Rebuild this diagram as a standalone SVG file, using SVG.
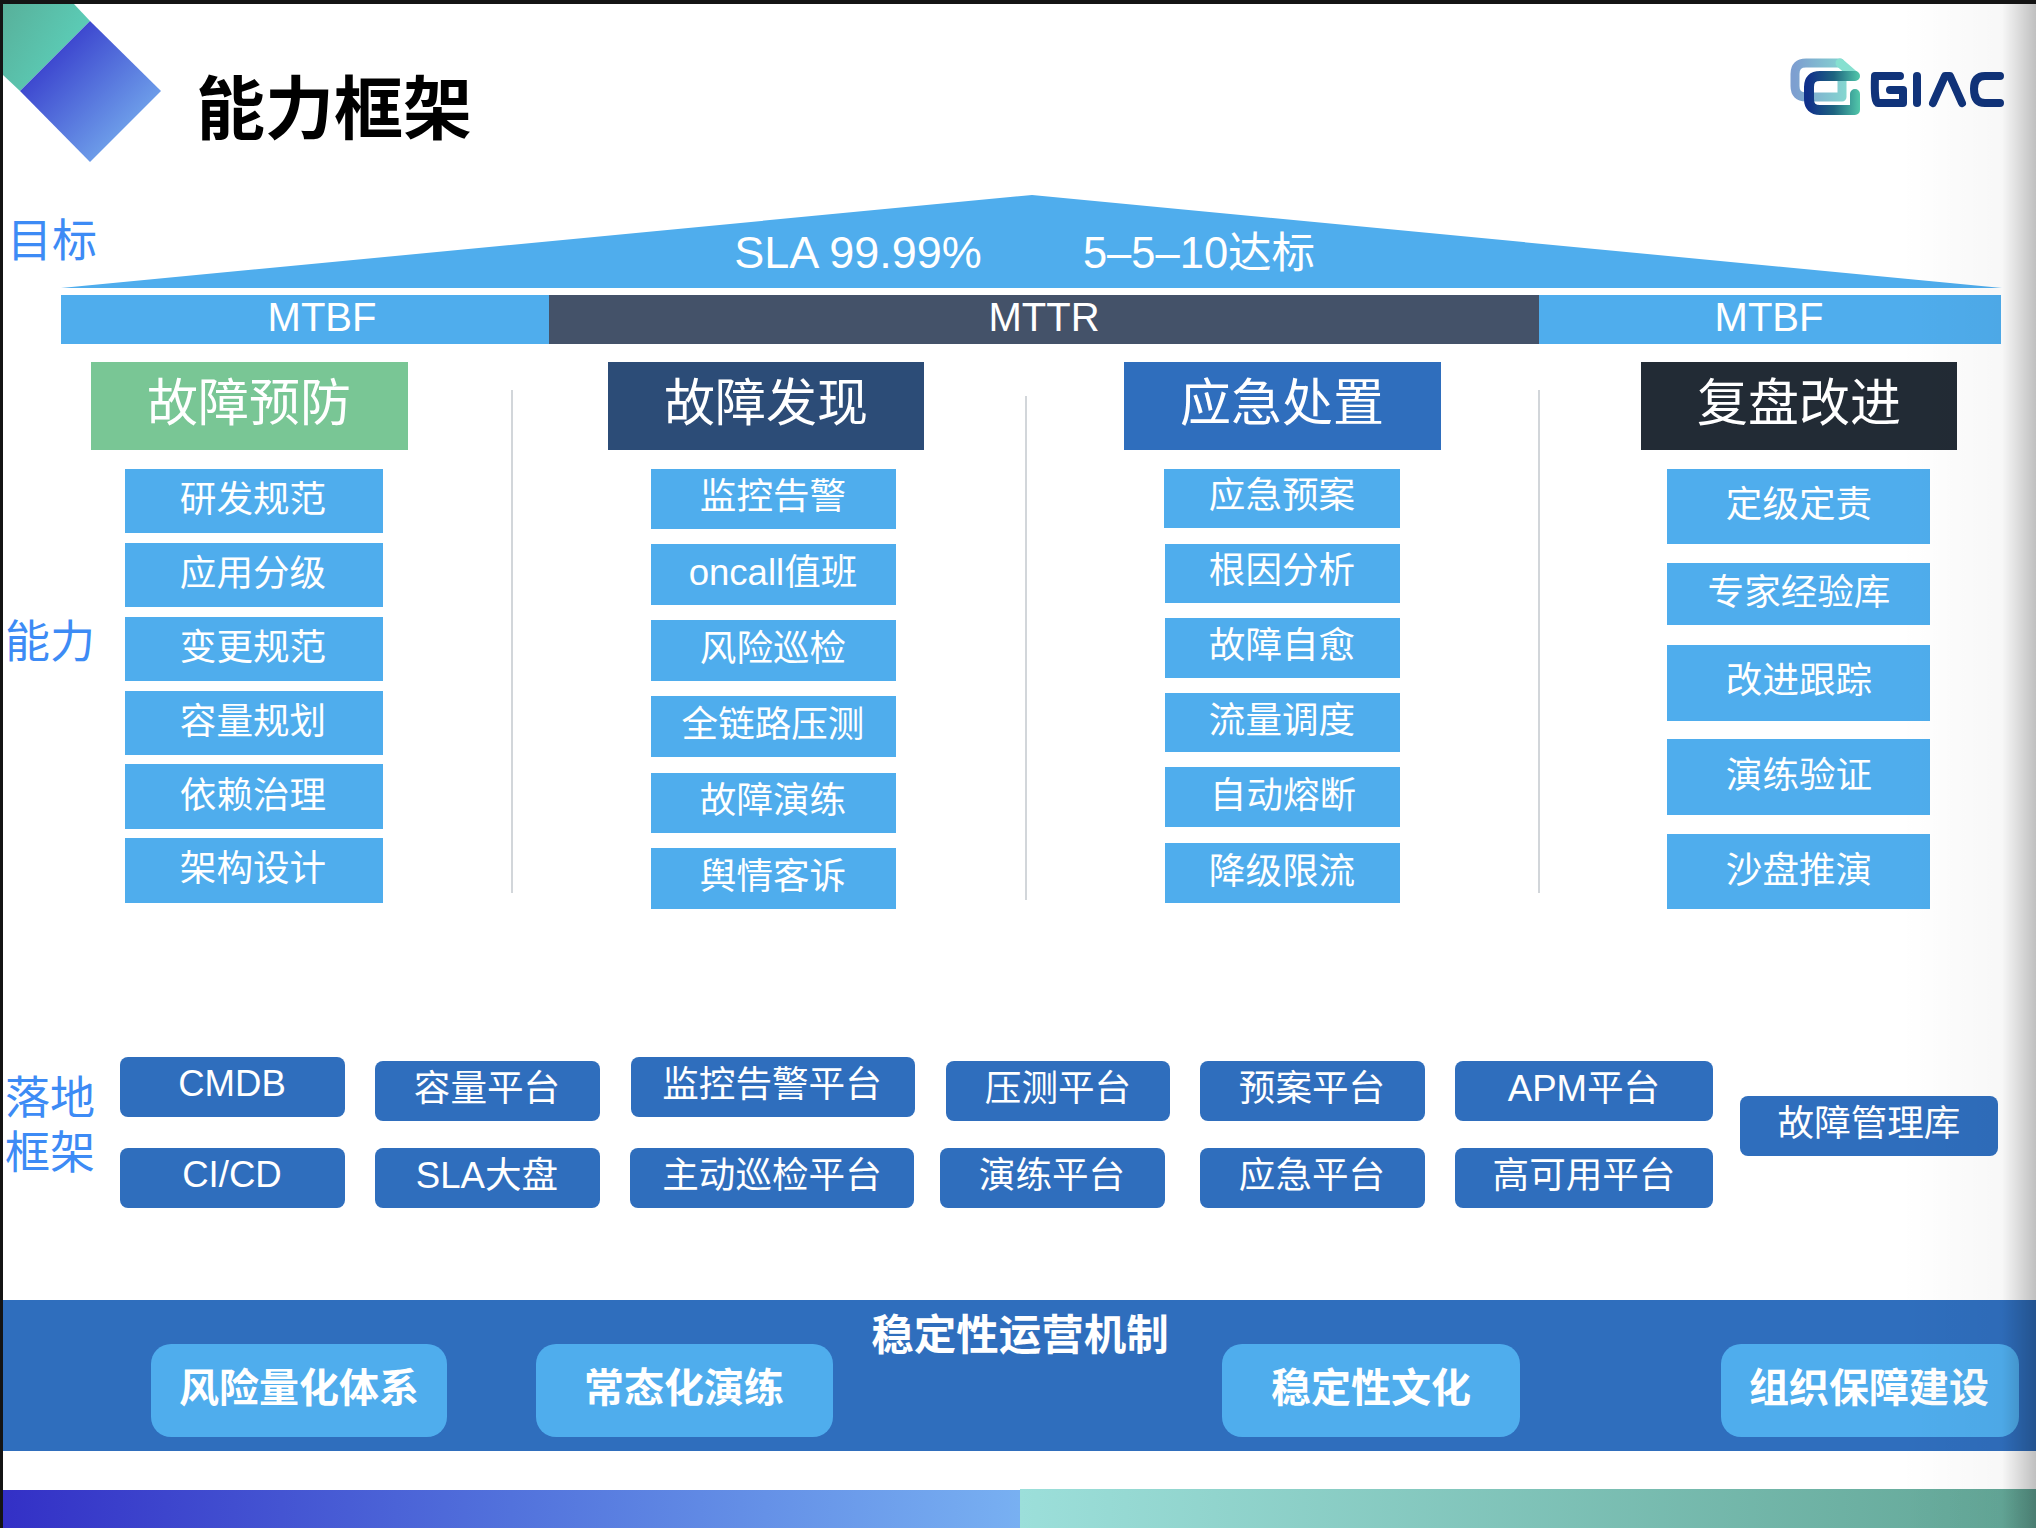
<svg xmlns="http://www.w3.org/2000/svg" width="2036" height="1528" viewBox="0 0 2036 1528">
<defs>
<linearGradient id="gDiamond" x1="0.1" y1="0.1" x2="0.9" y2="0.9"><stop offset="0" stop-color="#3030c8"/><stop offset="1" stop-color="#7ab4f0"/></linearGradient>
<linearGradient id="gCorner" x1="0" y1="0" x2="1" y2="0.6"><stop offset="0" stop-color="#58b09a"/><stop offset="1" stop-color="#5cd2bc"/></linearGradient>
<linearGradient id="gBot1" x1="0" y1="0" x2="1" y2="0"><stop offset="0" stop-color="#3330c6"/><stop offset="0.5" stop-color="#5272dc"/><stop offset="1" stop-color="#78b0f2"/></linearGradient>
<linearGradient id="gBot2" x1="0" y1="0" x2="1" y2="0"><stop offset="0" stop-color="#9cdfda"/><stop offset="1" stop-color="#62a696"/></linearGradient>
<linearGradient id="gEdge" x1="0" y1="0" x2="1" y2="0"><stop offset="0" stop-color="#000" stop-opacity="0"/><stop offset="0.75" stop-color="#000" stop-opacity="0.03"/><stop offset="1" stop-color="#000" stop-opacity="0.25"/></linearGradient>
<linearGradient id="gBack" gradientUnits="userSpaceOnUse" x1="1795" y1="0" x2="1855" y2="0"><stop offset="0" stop-color="#7d9fd0"/><stop offset="1" stop-color="#86e0d0"/></linearGradient>
<linearGradient id="gFront" gradientUnits="userSpaceOnUse" x1="1808" y1="0" x2="1860" y2="0"><stop offset="0" stop-color="#10308a"/><stop offset="0.5" stop-color="#1e6480"/><stop offset="1" stop-color="#52c8aa"/></linearGradient>
</defs>
<style>
text{font-family:"Liberation Sans","Noto Sans CJK SC",sans-serif;text-anchor:middle;fill:#fff}
.cjk{font-family:"Noto Sans CJK SC","Liberation Sans",sans-serif}
.sky{fill:#4faded}
.side{fill:#3d8bf5;font-size:45px;text-anchor:start}
.hd{font-size:51px}
.it{font-size:36.6px}
.pl{fill:#2f6ebd}
.pt{font-size:36.6px}
.bt{font-size:40px;font-weight:700}
.bar{font-size:40px}
.div{stroke:#d2d6da;stroke-width:2;fill:none}
</style>
<rect width="2036" height="1528" fill="#fff"/>
<rect width="2036" height="4" fill="#141414"/>
<rect x="0" y="4" width="3" height="1524" fill="#141414"/>
<g id="logo-mark">
<polygon points="3,4 74,4 90,21 20,91 3,75" fill="url(#gCorner)"/>
<polygon points="90,21 161,91 90,162 20,91" fill="url(#gDiamond)"/>
</g>
<text id="title" x="334" y="134" class="cjk" font-size="69" font-weight="700" style="fill:#000">能力框架</text>
<g id="giac-logo" fill="none" stroke-linecap="round" stroke-linejoin="round">
<path d="M1840 63H1806Q1795 63 1795 74V86Q1795 97 1806 97H1842V76" stroke="url(#gBack)" stroke-width="9"/>
<path d="M1840 63L1855 76" stroke="#86e0d0" stroke-width="9"/>
<path d="M1855 76H1820Q1809 76 1809 87V99Q1809 110 1820 110H1855V94" stroke="url(#gFront)" stroke-width="10"/>
<path d="M1875 76H1900M1875 76Q1874 103 1878 103H1903V90H1890" stroke="#10337a" stroke-width="8"/>
<path d="M1917 76V103" stroke="#10337a" stroke-width="8"/>
<path d="M1933 103L1945 76H1950L1962 103" stroke="#10337a" stroke-width="8"/>
<path d="M2000 76H1985Q1974 76 1974 89Q1974 103 1985 103H2000" stroke="#10337a" stroke-width="8"/>
</g>
<g id="labels">
<text class="side" x="7" y="257">目标</text>
<text class="side" x="5" y="658">能力</text>
<text class="side" x="5" y="1114">落地</text>
<text class="side" x="5" y="1169">框架</text>
</g>
<g id="goal-roof">
<polygon class="sky" points="61,288 1032,195 2002,288"/>
<text x="858" y="268" font-size="45">SLA 99.99%</text>
<text x="1199" y="268" font-size="43.5">5–5–10达标</text>
</g>
<g id="bars">
<rect class="sky" x="61" y="295" width="488" height="49"/>
<rect x="549" y="295" width="990" height="49" fill="#445269"/>
<rect class="sky" x="1539" y="295" width="462" height="49"/>
<text class="bar" x="322" y="331">MTBF</text>
<text class="bar" x="1044" y="331">MTTR</text>
<text class="bar" x="1769" y="331">MTBF</text>
</g>
<g id="dividers">
<line class="div" x1="512" y1="390" x2="512" y2="893"/>
<line class="div" x1="1026" y1="396" x2="1026" y2="900"/>
<line class="div" x1="1539" y1="390" x2="1539" y2="893"/>
</g>
<g id="head-1"><rect x="91" y="362" width="317" height="88" fill="#79c695"/><text class="hd" x="249" y="421">故障预防</text></g>
<g id="head-2"><rect x="608" y="362" width="316" height="88" fill="#2c4c77"/><text class="hd" x="766" y="421">故障发现</text></g>
<g id="head-3"><rect x="1124" y="362" width="317" height="88" fill="#2f6ebd"/><text class="hd" x="1282" y="421">应急处置</text></g>
<g id="head-4"><rect x="1641" y="362" width="316" height="88" fill="#222b35"/><text class="hd" x="1799" y="421">复盘改进</text></g>
<g id="col-1">
<rect class="sky" x="125" y="469" width="258" height="64"/><text class="it" x="253" y="512">研发规范</text>
<rect class="sky" x="125" y="543" width="258" height="64"/><text class="it" x="253" y="586">应用分级</text>
<rect class="sky" x="125" y="617" width="258" height="64"/><text class="it" x="253" y="660">变更规范</text>
<rect class="sky" x="125" y="691" width="258" height="64"/><text class="it" x="253" y="734">容量规划</text>
<rect class="sky" x="125" y="764" width="258" height="65"/><text class="it" x="253" y="808">依赖治理</text>
<rect class="sky" x="125" y="838" width="258" height="65"/><text class="it" x="253" y="881">架构设计</text>
</g>
<g id="col-2">
<rect class="sky" x="651" y="469" width="245" height="60"/><text class="it" x="773" y="509">监控告警</text>
<rect class="sky" x="651" y="544" width="245" height="61"/><text class="it" x="773" y="585">oncall值班</text>
<rect class="sky" x="651" y="620" width="245" height="61"/><text class="it" x="773" y="661">风险巡检</text>
<rect class="sky" x="651" y="696" width="245" height="61"/><text class="it" x="773" y="737">全链路压测</text>
<rect class="sky" x="651" y="773" width="245" height="60"/><text class="it" x="773" y="813">故障演练</text>
<rect class="sky" x="651" y="848" width="245" height="61"/><text class="it" x="773" y="889">舆情客诉</text>
</g>
<g id="col-3">
<rect class="sky" x="1164" y="469" width="236" height="59"/><text class="it" x="1282" y="508">应急预案</text>
<rect class="sky" x="1165" y="544" width="235" height="59"/><text class="it" x="1282" y="583">根因分析</text>
<rect class="sky" x="1165" y="618" width="235" height="60"/><text class="it" x="1282" y="658">故障自愈</text>
<rect class="sky" x="1165" y="693" width="235" height="59"/><text class="it" x="1282" y="733">流量调度</text>
<rect class="sky" x="1165" y="767" width="235" height="60"/><text class="it" x="1283" y="808">自动熔断</text>
<rect class="sky" x="1165" y="843" width="235" height="60"/><text class="it" x="1282" y="884">降级限流</text>
</g>
<g id="col-4">
<rect class="sky" x="1667" y="469" width="263" height="75"/><text class="it" x="1799" y="517">定级定责</text>
<rect class="sky" x="1667" y="563" width="263" height="62"/><text class="it" x="1799" y="605">专家经验库</text>
<rect class="sky" x="1667" y="645" width="263" height="76"/><text class="it" x="1799" y="693">改进跟踪</text>
<rect class="sky" x="1667" y="739" width="263" height="76"/><text class="it" x="1799" y="788">演练验证</text>
<rect class="sky" x="1667" y="834" width="263" height="75"/><text class="it" x="1799" y="883">沙盘推演</text>
</g>
<g id="platforms">
<rect class="pl" x="120" y="1057" width="225" height="60" rx="8"/><text class="pt" x="232" y="1096">CMDB</text>
<rect class="pl" x="375" y="1061" width="225" height="60" rx="8"/><text class="pt" x="487" y="1101">容量平台</text>
<rect class="pl" x="631" y="1057" width="284" height="60" rx="8"/><text class="pt" x="772" y="1097">监控告警平台</text>
<rect class="pl" x="946" y="1061" width="224" height="60" rx="8"/><text class="pt" x="1058" y="1101">压测平台</text>
<rect class="pl" x="1200" y="1061" width="225" height="60" rx="8"/><text class="pt" x="1312" y="1101">预案平台</text>
<rect class="pl" x="1455" y="1061" width="258" height="60" rx="8"/><text class="pt" x="1584" y="1101">APM平台</text>
<rect class="pl" x="1740" y="1096" width="258" height="60" rx="8"/><text class="pt" x="1869" y="1136">故障管理库</text>
<rect class="pl" x="120" y="1148" width="225" height="60" rx="8"/><text class="pt" x="232" y="1187">CI/CD</text>
<rect class="pl" x="375" y="1148" width="225" height="60" rx="8"/><text class="pt" x="487" y="1188">SLA大盘</text>
<rect class="pl" x="630" y="1148" width="284" height="60" rx="8"/><text class="pt" x="772" y="1188">主动巡检平台</text>
<rect class="pl" x="940" y="1148" width="225" height="60" rx="8"/><text class="pt" x="1052" y="1188">演练平台</text>
<rect class="pl" x="1200" y="1148" width="225" height="60" rx="8"/><text class="pt" x="1312" y="1188">应急平台</text>
<rect class="pl" x="1455" y="1148" width="258" height="60" rx="8"/><text class="pt" x="1584" y="1188">高可用平台</text>
</g>
<g id="mechanism">
<rect x="3" y="1300" width="2033" height="151" fill="#2f6ebd"/>
<text class="bt" x="1020" y="1350" style="font-size:42.5px">稳定性运营机制</text>
<rect class="sky" x="151" y="1344" width="296" height="93" rx="20"/><text class="bt" x="299" y="1402">风险量化体系</text>
<rect class="sky" x="536" y="1344" width="297" height="93" rx="20"/><text class="bt" x="684" y="1402">常态化演练</text>
<rect class="sky" x="1222" y="1344" width="298" height="93" rx="20"/><text class="bt" x="1371" y="1402">稳定性文化</text>
<rect class="sky" x="1721" y="1344" width="298" height="93" rx="20"/><text class="bt" x="1869" y="1402">组织保障建设</text>
</g>
<g id="footer">
<rect x="3" y="1490" width="1017" height="38" fill="url(#gBot1)"/>
<rect x="1020" y="1489" width="1016" height="39" fill="url(#gBot2)"/>
</g>
<rect id="page-edge" x="1900" y="4" width="136" height="1524" fill="url(#gEdge)"/>
</svg>
